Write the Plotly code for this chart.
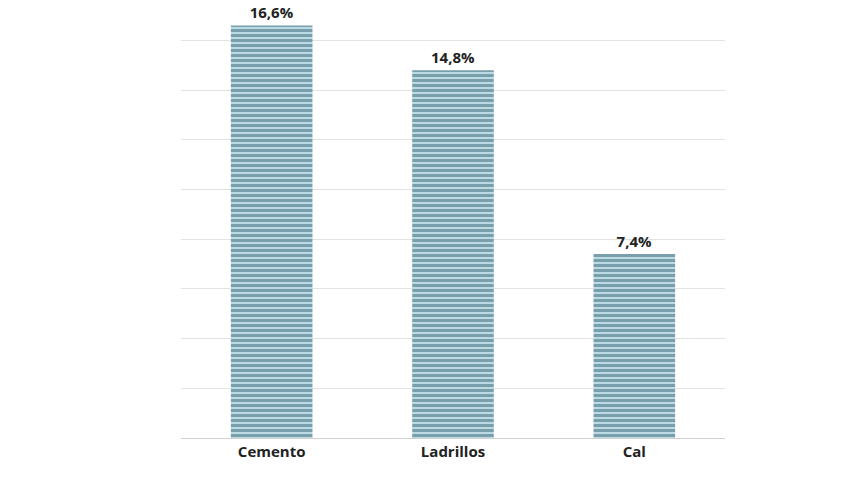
import plotly.graph_objects as go

categorias = ["Cemento", "Ladrillos", "Cal"]
valores = [16.6, 14.8, 7.4]
etiquetas = ["16,6%", "14,8%", "7,4%"]

fig = go.Figure()
fig.add_trace(go.Bar(
    x=categorias, y=valores, width=0.45,
    text=etiquetas, textposition="outside", cliponaxis=False,
    textfont=dict(family="Open Sans", size=15, color="#222"),
    marker=dict(color="#c4e2ec", line=dict(width=0),
                pattern=dict(shape="-", fgcolor="#2c5b6a", bgcolor="#c4e2ec",
                             size=5, solidity=0.65, fillmode="overlay")),
))
fig.update_layout(
    width=848, height=477, margin=dict(l=173, r=131, t=0, b=47),
    plot_bgcolor="white", paper_bgcolor="white", showlegend=False,
    font=dict(family="Open Sans", size=15, color="#222"),
    xaxis=dict(tickfont=dict(size=15), showline=True, linecolor="#d0d0d0", linewidth=1),
    yaxis=dict(range=[0, 17.3], dtick=2, showticklabels=False,
               gridcolor="#e3e3e3", zeroline=False),
)
fig.update_traces(texttemplate="<b>%{text}</b>")
fig.update_xaxes(ticktext=["<b>%s</b>" % c for c in categorias], tickvals=categorias)
fig.write_html("out.html")
